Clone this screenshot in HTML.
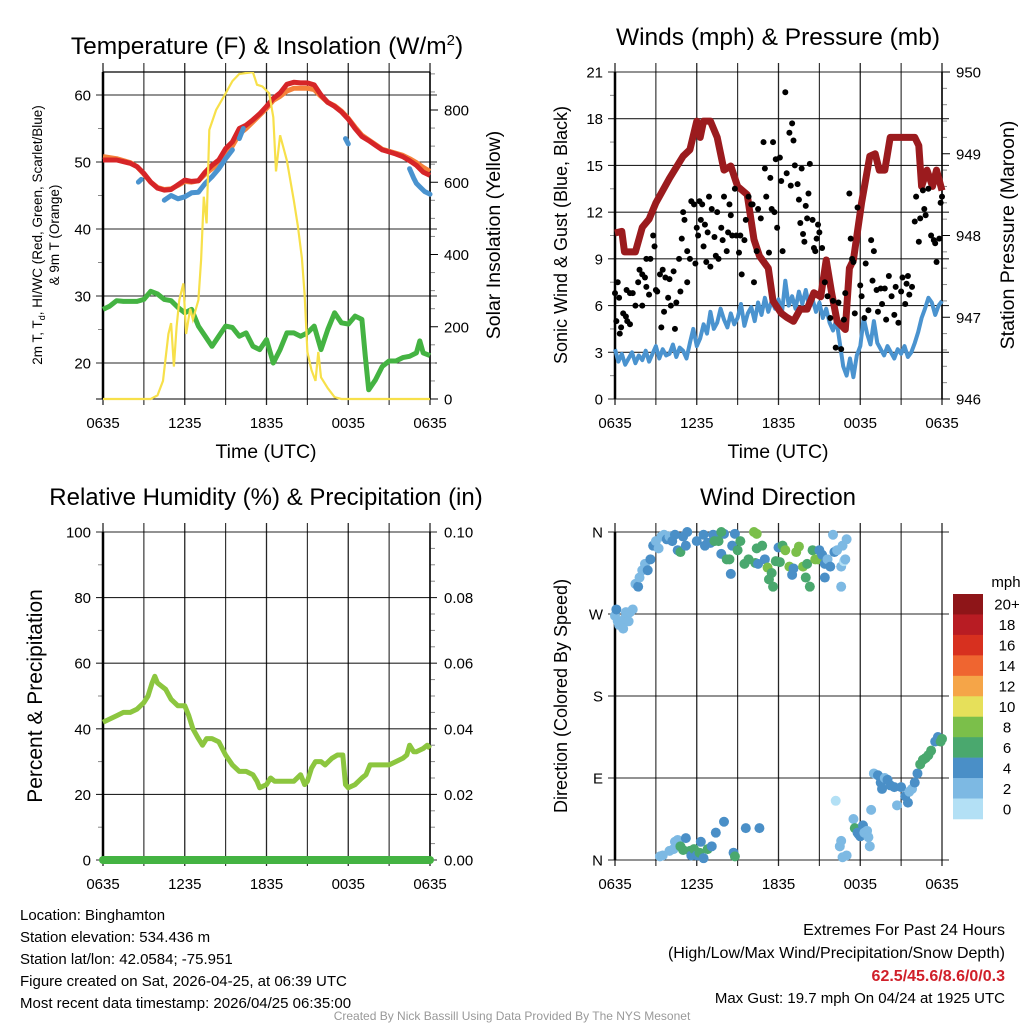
<!DOCTYPE html>
<html><head><meta charset="utf-8"><style>
html,body{margin:0;padding:0;background:#fff;}
svg{display:block;font-family:"Liberation Sans",sans-serif;}
</style></head><body>
<svg id="svg" width="1024" height="1024" viewBox="0 0 1024 1024" xmlns="http://www.w3.org/2000/svg">
<g id="layer"></g>
</svg>
<script>
// ---------- DATA ----------
const timeTicks = ["0635","1235","1835","0035","0635"];
// Temperature panel
const tempHours = [0,1,2,2.5,3,3.5,4,4.5,5,5.5,6,6.5,7,7.5,8,8.5,9,9.5,10,10.5,11,11.5,12,12.5,13,13.5,14,14.5,15,15.5,16,16.5,17,17.5,18,18.5,19,19.5,20,20.5,21,21.5,22,22.5,23,23.5,24];
const temp2m = [50.3,50.3,49.8,49.3,48.3,47,46.1,45.8,45.9,46.6,47.3,47.1,47.2,48.5,49.5,50.3,52,53,55,55.5,56.3,57.2,58.3,59.5,60.3,61.6,61.9,61.8,61.8,61.5,60,58.9,58.3,57.5,56.4,55,53.8,53.2,52.5,51.8,51.5,51.2,50.8,50.2,49.5,48.5,48];
const temp9m = [50.8,50.5,49.9,49.3,48.2,47,46.2,45.9,46,46.5,47.1,47,47.2,48.2,49,49.8,51.3,52.4,54.2,55,56,57,58,59.2,59.8,60.6,61,61,61,60.8,59.8,58.9,58.4,57.6,56.5,55.2,54,53.3,52.6,51.9,51.6,51.3,51,50.5,49.9,49.2,48.6];
const hiwcHours = [2.6,2.8,null,4.5,5,5.5,6,6.5,7,7.5,8,8.5,9,9.5,null,10,10.3,null,17.8,18,null,22.5,22.8,23,23.3,23.6,24];
const hiwcTemp = [47,47.4,null,44.3,45,44.5,44.8,45.4,45.5,46.8,47.8,49,50.5,51.8,null,53.5,55,null,53.5,52.7,null,49,47.6,46.8,46.2,45.6,45.2];
const dewHours = [0,0.5,1,1.5,2,2.5,3,3.5,4,4.5,5,5.5,6,6.5,7,7.5,8,8.5,9,9.5,10,10.5,11,11.5,12,12.5,13,13.5,14,14.5,15,15.5,16,16.5,17,17.5,18,18.5,19,19.25,19.5,20,20.5,21,21.5,22,22.5,23,23.25,23.5,24];
const dewTemp = [28,28.5,29.3,29.2,29.2,29.2,29.5,30.7,30.3,29.5,29.3,28.3,27.5,28,25.5,24,22.5,24,25.5,25.3,24,24.5,22.5,22,23.5,20,22,24.5,24.5,24,24.5,25.5,22,25,27.5,26,25.8,27,26.5,21,16,17.5,19.5,20.3,20.3,20.8,21,21.5,23.3,21.5,21.1];
const solarHours = [0,3.5,4,4.4,4.8,5,5.2,5.4,5.6,5.9,6.1,6.4,6.6,7,7.2,7.4,7.6,7.8,8.3,9,9.5,10,11,11.3,11.7,12.2,12.5,12.7,13,13.5,14,14.3,14.6,14.8,15,15.3,15.6,15.8,16,16.5,17,17.5,24];
const solarVals = [0,0,10,50,180,210,90,200,274,320,180,250,220,274,385,560,486,745,800,846,880,900,905,870,865,846,780,630,730,660,550,480,390,290,130,80,50,130,60,30,5,0,0];
// Winds panel
const windHours = [];
for (let i=0;i<=96;i++) windHours.push(i*0.25);
const sonicWind = [3.2,2.4,2.9,2.2,2.6,3,2.3,2.8,2.5,3.1,2.4,2.9,3.4,2.6,3.2,2.8,2.9,3.5,2.7,3.3,3.1,2.6,3.6,4.5,3.4,3.9,4.8,4.2,5.6,4.5,4.9,5.8,5.1,4.6,5.5,4.8,5.2,6.1,4.7,5.5,5.9,5.0,6.2,5.4,6.5,5.6,6.3,5.8,6.4,5.5,7.6,6.0,6.6,5.8,6.9,6.1,7.0,5.9,6.4,5.6,6.2,5.2,5.8,4.9,4.4,5.1,3.6,2.1,1.5,2.6,1.4,2.8,3.4,5.2,4.2,3.5,5.0,3.6,3.2,2.8,3.4,3.0,2.6,3.2,2.9,3.4,2.7,3.0,3.6,4.3,5.2,5.8,6.5,6.2,5.4,6.0,6.3];
const pressHours = [0,0.5,0.7,1.5,2,2.5,3,4,5,5.5,6,6.25,6.5,7,7.5,8,8.5,9,9.7,10.2,10.6,11.25,11.6,12.2,12.6,13.1,13.6,14.1,14.6,15.1,15.5,15.9,16.3,16.6,16.9,17.2,17.5,18.1,18.7,19.1,19.4,19.8,20.2,21,22,22.3,22.5,22.9,23.3,23.6,24];
const pressVals = [948.03,948.05,947.8,947.8,948.1,948.2,948.4,948.7,948.97,949.05,949.4,949.2,949.4,949.4,949.2,948.8,948.85,948.6,948.5,947.95,947.75,947.6,947.2,947.05,947.0,946.95,947.1,947.1,947.3,947.25,947.7,947.3,946.95,946.9,946.85,947.6,947.7,948.4,948.97,949.0,948.8,948.8,949.2,949.2,949.2,949.1,948.6,948.8,948.6,948.8,948.55];
const gustHours = [0,0.1,0.2,0.3,0.35,0.45,0.6,0.8,0.9,1.1,0.85,1.1,1.3,1.5,1.7,1.8,2,2,2.2,2.3,2.3,2.5,2.6,2.8,2.9,3,3.1,3.3,3.4,3.5,3.6,3.7,3.9,4,4.1,4.3,4.4,4.5,4.7,4.8,4.9,5,5.1,5.3,5.3,5.5,5.6,5.8,5.9,6,6.1,6.2,6.3,6.4,6.5,6.6,6.7,6.8,6.9,7,7.1,7.3,7.4,7.5,7.6,7.8,7.9,8,8.2,8.3,8.4,8.5,8.6,8.8,8.9,9.1,9.2,9.3,9.5,9.6,9.8,10,10.1,10.2,10.4,10.5,10.7,10.9,11,11.1,11.3,11.4,11.5,11.6,11.7,11.8,11.9,12.1,12.2,12.3,12.5,12.6,12.8,12.9,13,13.1,13.2,13.4,13.5,13.6,13.7,13.8,13.9,14,14.1,14.2,14.3,14.5,14.6,14.7,14.8,14.9,15,15.2,15.4,15.6,15.8,16,16.2,16.4,16.6,16.8,16.9,17.2,17.3,17.4,17.5,17.6,17.8,18,18.1,18.3,18.4,18.6,18.8,18.9,19,19.2,19.3,19.5,19.6,19.8,19.9,20.1,20.3,20.5,20.6,20.8,21,21.1,21.3,21.4,21.5,21.6,21.8,22,22.1,22.3,22.4,22.6,22.7,22.8,23,23.2,23.4,23.5,23.6,23.8,23.9,24];
const gustVals = [6.8,5,7.5,6.5,4.2,4.6,5.5,5.3,5,4.8,7,6.8,6.8,6,7.5,8.3,6,8,7.8,7.2,9,6.7,9,10.5,9.8,7,6.9,8,4.6,8.3,5.6,7.8,6.5,7.7,6,8.2,4.5,6.2,9,6.9,10.3,12,11.5,7.5,9.5,9,12.7,12.5,8.7,11,10.5,12.7,11.5,12.5,9.8,11.2,8.8,10.7,13,8.5,12.2,10.4,9.2,12,9,11,10.2,13,9.5,10.7,12.5,11.8,10.5,13.5,10.5,9.4,10.5,8,10.2,11.5,13,12.5,12.5,7.5,9.5,12.2,11.6,16.5,14.8,13,9.4,14.2,12.2,16.5,12,15.4,11,15.5,14,9.5,19.7,14.5,17.1,13.7,17.7,16.6,15,13.8,12.8,11.3,14.8,10.6,10.1,12.4,11.6,13.2,15.1,11.5,9.7,9.5,10.3,11.2,10.7,9.7,7.5,6.6,5.2,6.3,3.3,6.2,3.2,5.1,6.8,13.2,10.3,9,8.8,5.5,12.3,7.3,6.6,5.2,8.7,5.7,10.2,7.6,9.5,7,5.6,7.1,6.1,7.1,5.1,7.9,6.6,5.4,7.2,4.9,6.9,7.8,6.1,7.4,7.9,6.7,7.2,11.4,13,10.1,11.6,13.4,12.2,11.8,13.5,10.5,10.2,10,8.8,10.3,12.6,13];
// RH panel
const rhHours = [0,0.5,1,1.5,2,2.5,3,3.3,3.6,3.8,4,4.3,4.6,5,5.5,6,6.3,6.6,7,7.3,7.6,8,8.5,9,9.5,10,10.5,11,11.3,11.5,12,12.3,12.6,13,13.5,14,14.5,14.8,15,15.3,15.6,16,16.3,16.8,17.2,17.6,17.8,18,18.5,19,19.3,19.6,20,20.5,21,21.5,22,22.3,22.5,22.8,23,23.5,23.8,24];
const rhVals = [42,43,44,45,45,46,48,50,54,56,54,53,52,49,47,47,44,40,37,35,37,37,36,32,29,27,27,26,24,22,23,25,24,24,24,24,26,23,24,28,30,30,29,31,32,32,23,22,23,25,26,29,29,29,29,30,31,32,35,33,33,34,35,34];
const precipHours = [0,24];
const precipVals = [0,0];
// Wind direction panel
const dirHours = [0,0.1,0.2,0.3,0.5,0.6,0.7,0.8,1,1.1,1.3,1.5,1.7,1.8,2,2.2,2.4,2.6,2.8,3,3.2,3.4,3.6,3.8,4,4.2,4.4,5,5.3,6,6.5,7,7.2,7.5,8,6.6,6.8,7.3,7.6,7.8,8.2,8.4,8.5,8.6,8.8,9,9.2,9.5,9.8,10.3,10.4,10.5,10.8,11,11.2,11.3,11.5,11.6,11.8,12,12.1,12.3,12.5,12.8,13,13.1,13.3,13.5,13.8,14,14.1,14.3,14.5,14.7,14.9,15,15.2,15.4,15.6,15.8,15.4,16,16.1,16.3,16.7,16.6,16.8,16.9,16.6,17,10.2,10.4,7.8,4.6,4.8,5.2,
 3.3,3.5,4,4.3,4.4,4.6,4.8,5,5.2,5.5,5.6,5.8,6,6.2,6.3,6.5,6.8,7.1,7.4,8,8.7,8.8,9.6,10.6,
 16.2,16.5,16.6,16.7,17,17.5,17.6,17.8,17.9,18,18.2,18.3,18.5,18.6,18.7,18.8,19,19.3,19.5,19.6,19.8,20,20.2,20.5,20.7,21,21.3,21.5,21.6,21.8,22,22.2,22.4,22.6,22.8,23,23.2,23.5,23.7,23.9,24];
const dirDeg = [268,275,262,258,262,254,265,272,262,272,275,303,300,310,318,325,318,330,345,350,342,355,357,352,355,350,357,355,360,350,357,348,357,356,358,345,348,350,350,336,330,330,314,345,358,340,350,325,330,326,342,325,345,330,321,308,315,300,328,343,327,345,340,322,313,320,338,344,322,310,325,300,340,330,330,340,335,325,330,322,310,357,338,340,345,322,328,330,300,352,360,358,360,340,338,345,
 4,5,10,12,20,22,15,11,24,10,5,12,5,8,20,2,12,15,30,42,8,4,35,35,
 65,15,21,3,5,45,35,30,28,26,38,30,32,25,15,55,95,93,85,78,90,88,82,80,60,80,70,63,75,78,85,95,105,110,112,115,120,130,135,130,133];
const dirSpeed = [3,5,3,3,3,3,3,3,3,3,3,3,5,3,3,3,5,5,5,3,3,3,3,5,3,5,5,5,5,5,5,5,5,5,5,5,5,7,7,5,7,7,5,5,5,7,7,7,7,7,7,5,7,5,9,7,7,7,7,5,7,7,9,9,5,5,9,9,9,7,7,7,7,9,9,5,5,5,3,5,5,3,5,3,3,3,1,3,3,3,9,9,7,5,7,5,
 3,3,3,3,3,3,7,7,5,7,5,7,5,7,5,5,7,5,5,5,5,7,5,5,
 1,3,3,3,3,3,7,5,5,5,5,3,3,3,3,3,3,5,5,5,3,5,5,5,3,5,5,5,3,3,5,5,7,7,7,7,7,5,5,7,7];
const cbLabels = ["20+","18","16","14","12","10","8","6","4","2","0"];
const cbColors = ["#8e1518","#b81c23","#d7301f","#ef6530","#f5a548","#e6e05a","#7bbf4a","#4aa86e","#4a8fc7","#7db9e3","#b3e0f5"];

// ---------- HELPERS ----------
const NS="http://www.w3.org/2000/svg";
const root=document.getElementById('layer');
function mk(tag,attrs,parent){const e=document.createElementNS(NS,tag);for(const k in attrs)e.setAttribute(k,attrs[k]);(parent||root).appendChild(e);return e;}
function txt(s,x,y,size,anchor,parent,extra){const e=mk('text',Object.assign({x:x,y:y,'font-size':size,'text-anchor':anchor||'middle',fill:'#000'},extra||{}),parent);e.textContent=s;return e;}
function lin(a,b,c,d){return v=>c+(v-a)*(d-c)/(b-a);}
function pathD(xs,ys,fx,fy){let d='',pen=false;for(let i=0;i<xs.length;i++){if(xs[i]===null||ys[i]===null){pen=false;continue;}d+=(pen?'L':'M')+fx(xs[i]).toFixed(1)+','+fy(ys[i]).toFixed(1);pen=true;}return d;}
function speedColor(s){return cbColors[10-Math.min(10,Math.floor(s/2))];}

const P=[{x0:103,x1:430,y0:72,y1:399},{x0:615,x1:942,y0:72,y1:399},{x0:103,x1:430,y0:532,y1:860},{x0:615,x1:942,y0:532,y1:860}];

function frame(p,g){
  const fx=lin(0,24,p.x0,p.x1);
  for(let h=0;h<=24;h+=3){const x=fx(h);mk('line',{x1:x,y1:p.y0-9,x2:x,y2:p.y1+6,stroke:'#000','stroke-width':(h%6==0?1.3:1.1),opacity:0.85},g);}
  const tg=mk('g',{},g);
  
  
  timeTicks.forEach((t,i)=>txt(t,fx(i*6),p.y1+29,15,'middle',tg));
  return fx;
}
function hgrid(p,g,vals,fy,labs,side){
  vals.forEach((v,i)=>{const y=fy(v);mk('line',{x1:p.x0-7,y1:y,x2:p.x1+7,y2:y,stroke:'#000','stroke-width':1.1,opacity:0.85},g);
    if(labs) txt(labs[i],side==='left'?p.x0-12:p.x1+12,y+5.5,15,side==='left'?'end':'start',g);});
}
function border(p,g){mk('line',{x1:p.x0,y1:p.y0,x2:p.x0,y2:p.y1,stroke:'#000','stroke-width':2.5},g);mk('line',{x1:p.x1,y1:p.y0,x2:p.x1,y2:p.y1,stroke:'#000','stroke-width':1.5},g);}
function minorTicks(x,ys,dir,g){ys.forEach(y=>mk('line',{x1:x,y1:y,x2:x+dir*5,y2:y,stroke:'#888','stroke-width':1},g));}

// ---------- PANEL 1 ----------
(function(){
const p=P[0];const g=mk('g',{});


const t=mk('text',{x:267,y:54,'font-size':24.5,'text-anchor':'middle'},g);
t.innerHTML='Temperature (F) &amp; Insolation (W/m<tspan dy="-9" font-size="15">2</tspan><tspan dy="9">)</tspan>';


const fx=frame(p,g);
const fy=lin(20,60,363,95);const fs=lin(0,800,399,110);
hgrid(p,g,[20,30,40,50,60],fy,['20','30','40','50','60'],'left');
mk('line',{x1:p.x0-7,y1:p.y1,x2:p.x1+7,y2:p.y1,stroke:'#000','stroke-width':1},g);
mk('line',{x1:p.x0,y1:p.y0,x2:p.x1,y2:p.y0,stroke:'#000','stroke-width':1.3},g);
minorTicks(p.x0,[25,35,45,55].map(fy),-1,g);
[0,200,400,600,800].forEach(v=>{const y=fs(v);mk('line',{x1:p.x1,y1:y,x2:p.x1+8,y2:y,stroke:'#000'},g);txt(String(v),p.x1+14,y+5.5,15,'start',g);});
minorTicks(p.x1,[50,100,150,250,300,350,450,500,550,650,700,750,850,900].map(fs),1,g);
border(p,g);
const yl=mk('text',{transform:'translate(42,235) rotate(-90)','font-size':13.5,'text-anchor':'middle'},g);
yl.innerHTML='2m T, T<tspan dy="3" font-size="9">d</tspan><tspan dy="-3">, HI/WC (Red, Green, Scarlet/Blue)</tspan>';


txt('& 9m T (Orange)',0,0,13.5,'middle',g,{transform:'translate(59,235) rotate(-90)'});
const yr=txt('Solar Insolation (Yellow)',0,0,19.5,'middle',g,{transform:'translate(500,235) rotate(-90)'});


const xt=txt('Time (UTC)',266,458,19.5,'middle',g);


const s1=mk('path',{d:pathD(dewHours,dewTemp,fx,fy),fill:'none',stroke:'#44b342','stroke-width':5,'stroke-linejoin':'round'},g);


const s2=mk('path',{d:pathD(tempHours,temp9m,fx,fy),fill:'none',stroke:'#f5813a','stroke-width':5,'stroke-linejoin':'round'},g);


const s3=mk('path',{d:pathD(tempHours,temp2m,fx,fy),fill:'none',stroke:'#d62528','stroke-width':5,'stroke-linejoin':'round'},g);


const s4=mk('path',{d:pathD(hiwcHours,hiwcTemp,fx,fy),fill:'none',stroke:'#4a93cf','stroke-width':5,'stroke-linejoin':'round','stroke-linecap':'round'},g);


const cl=mk('clipPath',{id:'c1'},g);mk('rect',{x:p.x0,y:p.y0,width:p.x1-p.x0,height:p.y1-p.y0+2},cl);
const s5=mk('path',{d:pathD(solarHours,solarVals,fx,fs),fill:'none',stroke:'#f7e04a','stroke-width':2.2,'clip-path':'url(#c1)'},g);


})();

// ---------- PANEL 2 ----------
(function(){
const p=P[1];const g=mk('g',{});


const t=txt('Winds (mph) & Pressure (mb)',778,45,24.5,'middle',g);


const fx=frame(p,g);
const fy=lin(0,21,399,72);const fp=lin(946,950,399,72);
hgrid(p,g,[0,3,6,9,12,15,18,21],fy,['0','3','6','9','12','15','18','21'],'left');
minorTicks(p.x0,[1.5,4.5,7.5,10.5,13.5,16.5,19.5].map(fy),-1,g);
[946,947,948,949,950].forEach(v=>{const y=fp(v);mk('line',{x1:p.x1,y1:y,x2:p.x1+8,y2:y,stroke:'#000'},g);txt(String(v),p.x1+14,y+5.5,15,'start',g);});
const mv=[];for(let v=946.2;v<950;v+=0.2){if(Math.abs(v-Math.round(v))>0.05)mv.push(v);}
minorTicks(p.x1,mv.map(fp),1,g);
border(p,g);
const yl=txt('Sonic Wind & Gust (Blue, Black)',0,0,18,'middle',g,{transform:'translate(567,235) rotate(-90)'});


const yr=txt('Station Pressure (Maroon)',0,0,19.5,'middle',g,{transform:'translate(1014,235) rotate(-90)'});


const xt=txt('Time (UTC)',778,458,19.5,'middle',g);


const w=mk('path',{d:pathD(windHours,sonicWind,fx,fy),fill:'none',stroke:'#4a93cf','stroke-width':4,'stroke-linejoin':'round'},g);


const pr=mk('path',{d:pathD(pressHours,pressVals,fx,fp),fill:'none',stroke:'#9b1b1e','stroke-width':7,'stroke-linejoin':'round'},g);


gustHours.forEach((h,i)=>{const c=mk('circle',{cx:fx(h),cy:fy(gustVals[i]),r:3,fill:'#000'},g);

});
})();

// ---------- PANEL 3 ----------
(function(){
const p=P[2];const g=mk('g',{});


const t=txt('Relative Humidity (%) & Precipitation (in)',266,505,24,'middle',g);


const fx=frame(p,g);
const fy=lin(0,100,860,532);const fp=lin(0,0.1,860,532);
hgrid(p,g,[0,20,40,60,80,100],fy,['0','20','40','60','80','100'],'left');
minorTicks(p.x0,[10,30,50,70,90].map(fy),-1,g);
[0,0.02,0.04,0.06,0.08,0.1].forEach(v=>{const y=fp(v);txt(v.toFixed(2),p.x1+14,y+5.5,15,'start',g);});
const mv=[];for(let i=1;i<20;i++){if(i%4)mv.push(fp(i*0.005));}
minorTicks(p.x1,mv,1,g);
border(p,g);
const yl=txt('Percent & Precipitation',0,0,21,'middle',g,{transform:'translate(42,696) rotate(-90)'});


const r=mk('path',{d:pathD(rhHours,rhVals,fx,fy),fill:'none',stroke:'#8cc63f','stroke-width':5,'stroke-linejoin':'round'},g);


const pc=mk('path',{d:pathD(precipHours,precipVals,fx,fp),fill:'none',stroke:'#44b342','stroke-width':8,'stroke-linecap':'round'},g);


})();

// ---------- PANEL 4 ----------
(function(){
const p=P[3];const g=mk('g',{});


const t=txt('Wind Direction',778,505,24,'middle',g);


const fx=frame(p,g);
const fy=lin(0,360,860,532);
hgrid(p,g,[0,90,180,270,360],fy,['N','E','S','W','N'],'left');
mk('line',{x1:p.x0,y1:p.y0,x2:p.x0,y2:p.y1,stroke:'#000','stroke-width':2.5},g);
const yl=txt('Direction (Colored By Speed)',0,0,18,'middle',g,{transform:'translate(567,696) rotate(-90)'});


dirHours.forEach((h,i)=>{const c=mk('circle',{cx:fx(h),cy:fy(dirDeg[i]),r:5,fill:speedColor(dirSpeed[i])},g);

});
const cb=mk('g',{},g);


txt('mph',1006,587,15,'middle',cb);
const bh=(819-594)/11;
cbLabels.forEach((l,i)=>{mk('rect',{x:953,y:594+i*bh,width:30,height:bh+0.3,fill:cbColors[i]},cb);txt(l,1007,594+i*bh+bh/2+5.5,15,'middle',cb);});
})();

// ---------- FOOTER ----------
(function(){
const g=mk('g',{});


['Location: Binghamton','Station elevation: 534.436 m','Station lat/lon: 42.0584; -75.951','Figure created on Sat, 2026-04-25, at 06:39 UTC','Most recent data timestamp: 2026/04/25 06:35:00'].forEach((s,i)=>txt(s,20,920+i*22,15,'start',g));
const g2=mk('g',{});


txt('Extremes For Past 24 Hours',1005,935,16,'end',g2);
txt('(High/Low/Max Wind/Precipitation/Snow Depth)',1005,958,16,'end',g2);
txt('62.5/45.6/8.6/0/0.3',1005,981,16,'end',g2,{fill:'#d0202a','font-weight':'bold'});
txt('Max Gust: 19.7 mph On 04/24 at 1925 UTC',1005,1003,15,'end',g2);
const c=txt('Created By Nick Bassill Using Data Provided By The NYS Mesonet',512,1020,12,'middle',null,{fill:'#999'});


})();
</script>
</body></html>
